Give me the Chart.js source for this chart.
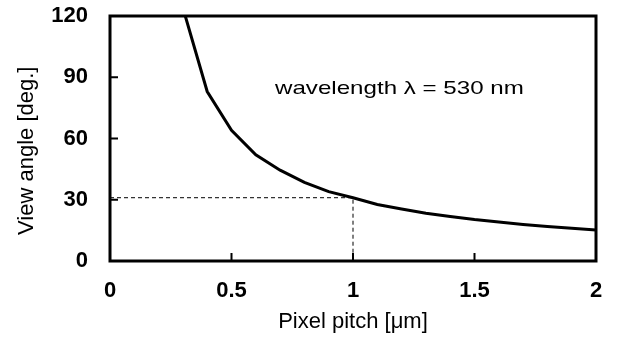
<!DOCTYPE html>
<html>
<head>
<meta charset="utf-8">
<script src="https://cdn.jsdelivr.net/npm/chart.js@4/dist/chart.umd.min.js"></script>
<style>
  html, body { margin: 0; padding: 0; background: #fff; }
  #wrap { width: 619px; height: 341px; }
</style>
</head>
<body>
<div id="wrap"><canvas id="chart"></canvas></div>
<script>
// pixel pitch [um] and view angle [deg.]
const pitch = [0.3, 0.4, 0.5, 0.6, 0.7, 0.8, 0.9, 1.0, 1.1, 1.2, 1.3, 1.4, 1.5, 1.6, 1.7, 1.8, 1.9, 2.0];
const angle = [124, 83, 64, 52, 44.5, 38.5, 34, 31, 27.7, 25.5, 23.4, 21.8, 20.3, 19.1, 17.9, 16.9, 16.0, 15.2];

// dashed guide at 1 um
const guideX = [0, 1, 1];
const guideY = [31, 31, 0];

const xTicks = [0, 0.5, 1, 1.5, 2];
const yTicks = [0, 30, 60, 90, 120];
const note = "wavelength \u03bb = 530 nm";
const notePos = [0.679, 82];
const yTitle = "View angle [deg.]";

const font = "'Liberation Sans', Arial, sans-serif";

const framePlugin = {
  id: "frame",
  afterDraw(chart) {
    const ctx = chart.ctx;
    const a = chart.chartArea;
    const xs = chart.scales.x;
    const ys = chart.scales.y;
    ctx.save();
    ctx.strokeStyle = "#000";
    ctx.lineWidth = 3;
    ctx.strokeRect(a.left, a.top, a.right - a.left, a.bottom - a.top);

    // inward tick marks
    ctx.lineWidth = 2;
    ctx.beginPath();
    xTicks.slice(1, -1).forEach(v => {
      const px = xs.getPixelForValue(v);
      ctx.moveTo(px, a.bottom);
      ctx.lineTo(px, a.bottom - 8);
    });
    yTicks.slice(1, -1).forEach(v => {
      const py = ys.getPixelForValue(v);
      ctx.moveTo(a.left, py);
      ctx.lineTo(a.left + 8, py);
    });
    ctx.stroke();

    ctx.fillStyle = "#000";

    // y title sits a bit below the middle of the axis
    ctx.save();
    ctx.font = "22px " + font;
    ctx.textAlign = "center";
    ctx.textBaseline = "middle";
    ctx.translate(27, ys.getPixelForValue(54));
    ctx.rotate(-Math.PI / 2);
    ctx.fillText(yTitle, 0, 0);
    ctx.restore();

    // the note is set a little wider than the font, as in the picture
    ctx.font = "19px " + font;
    ctx.textBaseline = "alphabetic";
    ctx.textAlign = "left";
    ctx.translate(xs.getPixelForValue(notePos[0]), ys.getPixelForValue(notePos[1]));
    ctx.scale(1.27, 1);
    ctx.fillText(note, 0, 0);
    ctx.restore();
  }
};

new Chart(document.getElementById("chart"), {
  type: "scatter",
  data: {
    datasets: [
      {
        data: guideX.map((x, i) => ({ x: x, y: guideY[i] })),
        showLine: true,
        borderColor: "#000",
        borderWidth: 1,
        borderDash: [4, 3],
        pointRadius: 0,
        tension: 0,
      },
      {
        data: pitch.map((x, i) => ({ x: x, y: angle[i] })),
        showLine: true,
        borderColor: "#000",
        borderWidth: 3,
        pointRadius: 0,
        tension: 0,
      },
    ],
  },
  options: {
    responsive: true,
    maintainAspectRatio: false,
    animation: false,
    events: [],
    layout: { padding: { top: 16, right: 23, left: 0, bottom: 0 } },
    plugins: { legend: { display: false }, tooltip: { enabled: false } },
    scales: {
      x: {
        type: "linear",
        min: 0,
        max: 2,
        afterFit(s) {
          s.height = 80;
          s.paddingLeft = 0;
          s.paddingRight = 0;
        },
        afterBuildTicks(s) { s.ticks = xTicks.map(v => ({ value: v })); },
        grid: { display: false, drawTicks: false },
        border: { display: false },
        ticks: {
          padding: 17,
          color: "#000",
          font: { family: font, size: 22, weight: "bold" },
          maxRotation: 0,
          callback: v => String(v),
        },
        title: {
          display: true,
          text: "Pixel pitch [\u03bcm]",
          color: "#000",
          font: { family: font, size: 22 },
          padding: { top: 0, bottom: 6 },
        },
      },
      y: {
        type: "linear",
        min: 0,
        max: 120,
        afterFit(s) {
          s.width = 110;
          s.paddingTop = 0;
          s.paddingBottom = 0;
        },
        afterBuildTicks(s) { s.ticks = yTicks.map(v => ({ value: v })); },
        grid: { display: false, drawTicks: false },
        border: { display: false },
        ticks: {
          padding: 22,
          color: "#000",
          font: { family: font, size: 22, weight: "bold" },
        },
      },
    },
  },
  plugins: [framePlugin],
});
</script>
</body>
</html>
